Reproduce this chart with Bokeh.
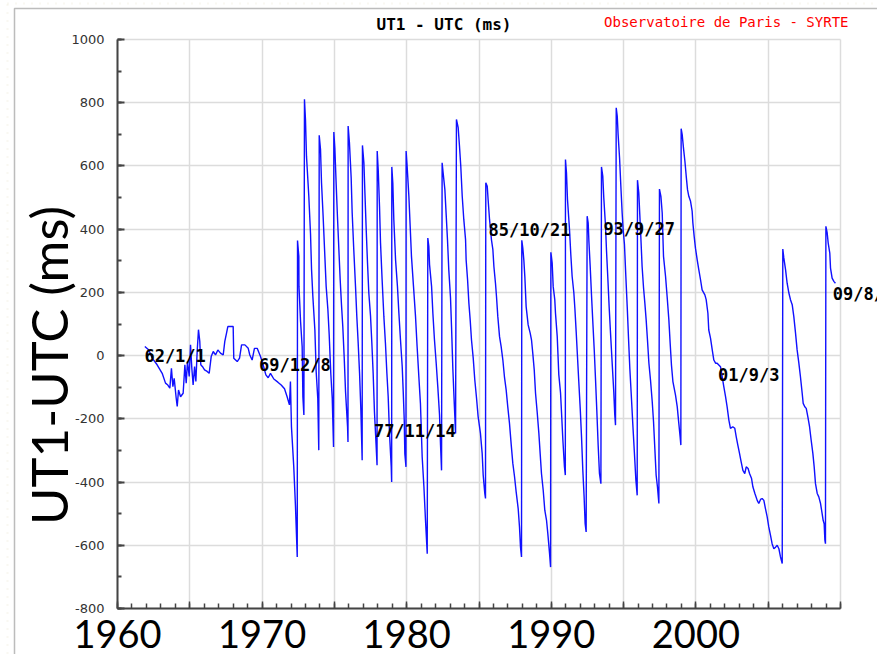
import math
from bokeh.plotting import figure
from bokeh.models import (Range1d, FixedTicker, Label, BoxAnnotation,
                          ColumnDataSource, CustomJSTickFormatter)
from bokeh.embed import file_html
from bokeh.resources import INLINE

# ---------------- data ----------------
early_year = [1961.89, 1962.17, 1962.40, 1962.74, 1963.09, 1963.32, 1963.48, 1963.62, 1963.73,
              1963.83, 1963.92, 1964.06, 1964.13, 1964.22, 1964.36, 1964.54, 1964.66, 1964.75,
              1964.84, 1964.96, 1965.05, 1965.14, 1965.23, 1965.33, 1965.42, 1965.51, 1965.60,
              1965.69, 1965.76, 1965.88, 1966.02, 1966.20, 1966.34, 1966.48, 1966.62, 1966.78,
              1966.94, 1967.12, 1967.31, 1967.42, 1967.54, 1967.63, 1968.00, 1968.04, 1968.28,
              1968.44, 1968.58, 1968.81, 1969.04, 1969.15, 1969.31, 1969.47, 1969.66, 1969.89,
              1970.07, 1970.26, 1970.42, 1970.58, 1970.81, 1971.09, 1971.32, 1971.55, 1971.73,
              1971.89, 1971.96, 1972.03, 1972.19, 1972.31, 1972.43]
early_ms = [29, 18, -8, -29, -56, -87, -93, -103, -40,
            -98, -72, -135, -161, -109, -130, -119, -29, -87,
            -19, -66, 34, -40, -93, -35, -82, 13, 82,
            45, -29, -35, -45, -50, -56, -3, 13, 2,
            18, 8, 2, 45, 71, 92, 92, -8, -19,
            -8, 34, 34, 23, 2, -14, 23, 23, -3,
            -29, -61, -70, -56, -74, -84, -93, -105, -130,
            -156, -82, -225, -352, -479, -637]

seventies_year = [1972.45, 1972.54, 1972.55, 1972.66, 1972.77, 1972.82, 1972.89,
                  1972.93, 1973.00, 1973.07, 1973.23, 1973.35, 1973.42, 1973.51, 1973.65, 1973.74, 1973.85, 1973.92,
                  1973.95, 1974.04, 1974.11, 1974.22, 1974.34, 1974.43, 1974.55, 1974.64, 1974.75, 1974.85, 1974.94,
                  1974.96, 1975.03, 1975.12, 1975.21, 1975.31, 1975.40, 1975.49, 1975.58, 1975.68, 1975.77, 1975.91, 1975.94,
                  1975.95, 1976.04, 1976.16, 1976.23, 1976.34, 1976.46, 1976.55, 1976.64, 1976.74, 1976.83, 1976.92,
                  1976.94, 1977.04, 1977.11, 1977.20, 1977.29, 1977.38, 1977.50, 1977.59, 1977.68, 1977.77, 1977.89, 1977.95,
                  1977.96, 1978.03, 1978.12, 1978.19, 1978.30, 1978.42, 1978.53, 1978.63, 1978.72, 1978.81, 1978.93, 1978.96,
                  1978.97, 1979.04, 1979.11, 1979.23, 1979.36, 1979.46, 1979.57, 1979.69, 1979.76, 1979.83, 1979.87, 1979.95]
seventies_ms = [364, 314, 219, 108, 29, -130, -188,
                811, 747, 631, 504, 383, 272, 187, 81, -51, -135, -299,
                697, 652, 546, 441, 314, 219, 145, 66, -56, -135, -289,
                707, 657, 546, 441, 335, 240, 161, 92, -8, -114, -225, -273,
                726, 673, 562, 451, 335, 219, 124, 44, -56, -172, -331,
                665, 610, 515, 398, 293, 198, 124, 39, -56, -178, -289, -347,
                647, 589, 472, 356, 240, 124, 39, -56, -130, -246, -352, -400,
                597, 546, 430, 303, 219, 134, 50, -35, -114, -204, -310, -352]

eighties_year = [1979.96, 1980.03, 1980.15, 1980.24, 1980.33, 1980.47, 1980.61, 1980.72, 1980.84, 1980.95,
                 1981.07, 1981.19, 1981.30, 1981.42,
                 1981.46, 1981.53, 1981.58, 1981.72, 1981.81, 1981.92, 1982.04, 1982.15, 1982.27, 1982.34, 1982.41,
                 1982.45, 1982.52, 1982.64, 1982.73, 1982.82, 1982.91, 1983.03, 1983.10, 1983.19, 1983.28, 1983.38,
                 1983.44, 1983.56, 1983.65, 1983.74, 1983.84, 1983.95, 1984.07, 1984.11, 1984.21, 1984.30, 1984.39,
                 1984.48, 1984.60, 1984.71, 1984.83, 1984.94, 1985.10, 1985.22, 1985.29, 1985.40, 1985.45,
                 1985.47, 1985.57, 1985.63, 1985.73, 1985.86, 1985.96, 1986.03, 1986.14, 1986.21, 1986.30, 1986.42,
                 1986.53, 1986.65, 1986.76, 1986.88, 1986.99, 1987.11, 1987.23, 1987.34, 1987.46, 1987.57, 1987.71,
                 1987.80, 1987.87, 1987.94,
                 1987.96, 1988.03, 1988.10, 1988.17, 1988.26, 1988.40, 1988.54, 1988.63, 1988.72, 1988.82, 1988.91,
                 1989.02, 1989.14, 1989.23, 1989.32, 1989.44, 1989.55, 1989.67, 1989.76, 1989.88, 1989.95]
eighties_ms = [647, 599, 504, 409, 314, 219, 124, 29, -67, -151,
               -320, -415, -521, -627,
               372, 346, 288, 219, 134, 50, -24, -98, -188, -283, -363,
               610, 578, 525, 446, 367, 272, 182, 92, -40, -141, -246,
               747, 721, 663, 599, 504, 430, 367, 303, 240, 166, 113,
               50, -8, -77, -135, -193, -246, -310, -378, -436, -452,
               547, 536, 494, 430, 367, 335, 282, 229, 187, 124, 60,
               29, -14, -67, -109, -162, -215, -283, -341, -384, -431, -484,
               -542, -606, -637,
               365, 340, 303, 250, 155, 97, 71, 50, 7, -45, -119,
               -177, -246, -310, -373, -426, -489, -521, -563, -627, -669]

nineties_year = [1989.97, 1990.06, 1990.13, 1990.24, 1990.29, 1990.41, 1990.52, 1990.64, 1990.71, 1990.80, 1990.91, 1990.97,
                 1990.98, 1991.05, 1991.12, 1991.26, 1991.35, 1991.44, 1991.56, 1991.63, 1991.72, 1991.81, 1991.90,
                 1992.00, 1992.09, 1992.18, 1992.27, 1992.34, 1992.41,
                 1992.48, 1992.55, 1992.60, 1992.69, 1992.78, 1992.87, 1992.97, 1993.06, 1993.15, 1993.24, 1993.33, 1993.43,
                 1993.47, 1993.56, 1993.63, 1993.75, 1993.82, 1993.91, 1994.00, 1994.09, 1994.21, 1994.32, 1994.39, 1994.44,
                 1994.49, 1994.56, 1994.62, 1994.72, 1994.81, 1994.90, 1994.97, 1995.06, 1995.15, 1995.25, 1995.34,
                 1995.43, 1995.55, 1995.64, 1995.75, 1995.85, 1995.94,
                 1995.96, 1996.05, 1996.12, 1996.19, 1996.28, 1996.38, 1996.47, 1996.56, 1996.65, 1996.75, 1996.86,
                 1996.98, 1997.07, 1997.16, 1997.25, 1997.34, 1997.44,
                 1997.48, 1997.58, 1997.67, 1997.76, 1997.90, 1998.01, 1998.13, 1998.22, 1998.31, 1998.41, 1998.50,
                 1998.59, 1998.71, 1998.82, 1998.91, 1998.96]
nineties_ms = [327, 293, 219, 177, 134, 60, -61, -119, -183, -267, -352, -378,
               620, 578, 494, 398, 319, 251, 198, 150, 76, -3, -82,
               -167, -257, -363, -447, -532, -558,
               441, 420, 362, 282, 192, 108, 18, -77, -177, -283, -373, -405,
               597, 568, 499, 409, 330, 245, 155, 76, -24, -114, -188, -220,
               784, 758, 700, 626, 536, 451, 398, 351, 256, 155, 55,
               -40, -141, -220, -310, -394, -442,
               555, 515, 446, 377, 282, 214, 166, 113, 50, -24, -77,
               -146, -209, -294, -378, -415, -468,
               527, 504, 451, 314, 251, 187, 113, 39, -30, -82, -104,
               -125, -162, -215, -257, -283]

noughties_year = [1998.98, 1999.05, 1999.14, 1999.24, 1999.33, 1999.42, 1999.51, 1999.63, 1999.74, 1999.79,
                  1999.88, 1999.97, 2000.09, 2000.20, 2000.32, 2000.43, 2000.62, 2000.71, 2000.83, 2000.89,
                  2001.01, 2001.13, 2001.24, 2001.36, 2001.47, 2001.70, 2001.82, 2001.93, 2002.05, 2002.16,
                  2002.28, 2002.39, 2002.55, 2002.69, 2002.79, 2002.90, 2003.02, 2003.13, 2003.25, 2003.38,
                  2003.48, 2003.61, 2003.71, 2003.85, 2003.94, 2004.08, 2004.24, 2004.35, 2004.47, 2004.58,
                  2004.70, 2004.81, 2004.93, 2005.04, 2005.16, 2005.27, 2005.39, 2005.51, 2005.62, 2005.74,
                  2005.85, 2005.97,
                  2006.01, 2006.08, 2006.20, 2006.31, 2006.43, 2006.54, 2006.66, 2006.77, 2006.89, 2007.00,
                  2007.12, 2007.23, 2007.35, 2007.42, 2007.53, 2007.63, 2007.74, 2007.86, 2007.97, 2008.09,
                  2008.18, 2008.27, 2008.39, 2008.50, 2008.62, 2008.73, 2008.80, 2008.87, 2008.92, 2008.96,
                  2008.99, 2009.08, 2009.15, 2009.26, 2009.31, 2009.42, 2009.54, 2009.65]
noughties_ms = [718, 700, 657, 615, 568, 525, 504, 488, 457, 420,
                377, 340, 303, 272, 240, 208, 192, 177, 134, 81,
                55, 18, -14, -24, -24, -35, -67, -98, -130, -162,
                -204, -230, -225, -230, -257, -283, -310, -336, -363, -373,
                -352, -357, -373, -389, -415, -436, -458, -468, -455, -452,
                -458, -484, -510, -542, -569, -595, -611, -606, -600, -611,
                -637, -658,
                337, 309, 272, 229, 198, 177, 161, 124, 71, 18,
                -24, -67, -119, -151, -162, -167, -193, -225, -267, -310,
                -352, -405, -436, -447, -468, -500, -521, -532, -584, -595,
                409, 388, 356, 324, 277, 245, 235, 229]

note_text = ["62/1/1", "69/12/8", "77/11/14", "85/10/21", "93/9/27", "01/9/3", "09/8/10"]
note_year = [1962.00, 1969.93, 1977.87, 1985.80, 1993.74, 2001.67, 2009.61]
note_ms = [0, -31, -240, 397, 400, -61, 195]

x_label_years = [1960, 1970, 1980, 1990, 2000]
x_label_text = ["1960", "1970", "1980", "1990", "2000"]
x_major_ticks = [1960, 1965, 1970, 1975, 1980, 1985, 1990, 1995, 2000, 2005, 2010]
x_minor_ticks = list(range(1960, 2011))
y_major_ticks = [-800, -600, -400, -200, 0, 200, 400, 600, 800, 1000]
y_minor_ticks = list(range(-800, 1001, 100))

title_text = "UT1 - UTC (ms)"
credit_text = "Observatoire de Paris - SYRTE"
y_title_text = "UT1-UTC (ms)"

# ---------------- layout: the chart box inside the slide ----------------
W, H = 877, 654
BOX_L, BOX_R, BOX_T, BOX_B = 117, 840, 39, 608     # pixel edges of the chart box
X0, X1, Y0, Y1 = 1960, 2010, -800, 1000
sx = (X1 - X0) / (BOX_R - BOX_L)
sy = (Y1 - Y0) / (BOX_B - BOX_T)


def px_x(px):
    return X0 + (px - BOX_L) * sx


def px_y(py):
    return Y1 - (py - BOX_T) * sy


all_year, all_ms = [], []
for ys, vs in [(early_year, early_ms), (seventies_year, seventies_ms),
               (eighties_year, eighties_ms), (nineties_year, nineties_ms),
               (noughties_year, noughties_ms)]:
    for a, b in zip(ys, vs):
        all_year.append(a)
        all_ms.append(b)

src = ColumnDataSource(dict(year=all_year, ms=all_ms))

p = figure(width=W, height=H, output_backend="svg", toolbar_location=None,
           x_range=Range1d(px_x(0), px_x(W)), y_range=Range1d(px_y(H), px_y(0)),
           min_border=0)
p.outline_line_color = None
p.background_fill_color = "white"
p.border_fill_color = "white"

# grid
p.xgrid.ticker = FixedTicker(ticks=x_major_ticks)
p.ygrid.ticker = FixedTicker(ticks=y_major_ticks)
for g in (p.xgrid, p.ygrid):
    g.grid_line_color = "#dcdcdc"
    g.grid_line_width = 1.5
if "cross_bounds" in p.xgrid.properties():
    p.xgrid.cross_bounds = (Y0, Y1)
    p.ygrid.cross_bounds = (X0, X1)
p.xgrid.bounds = (X0, X1)
p.ygrid.bounds = (Y0, Y1)

# y axis, pinned at 1960
ya = p.yaxis[0]
ya.fixed_location = X0
ya.bounds = (Y0, Y1)
ya.ticker = FixedTicker(ticks=y_major_ticks, minor_ticks=y_minor_ticks)
ya.formatter = CustomJSTickFormatter(code="return tick.toFixed(0);")
ya.axis_line_color = "#444444"
ya.axis_line_width = 2
ya.major_tick_in = 7
ya.major_tick_out = 0
ya.minor_tick_in = 4
ya.minor_tick_out = 0
ya.major_tick_line_color = "#444444"
ya.major_tick_line_width = 2
ya.minor_tick_line_color = "#444444"
ya.minor_tick_line_width = 2
ya.major_label_text_font = "DejaVu Sans"
ya.major_label_text_font_size = "13px"
ya.major_label_text_color = "#333333"
ya.major_label_standoff = 13

# x axis, pinned at -800, big slide year labels as tick labels
xa = p.xaxis[0]
xa.fixed_location = Y0
xa.bounds = (X0, X1)
xa.ticker = FixedTicker(ticks=x_major_ticks, minor_ticks=x_minor_ticks)
xa.formatter = CustomJSTickFormatter(
    args=dict(vals=x_label_years, labels=x_label_text),
    code="const i = vals.indexOf(tick); return i >= 0 ? labels[i] : '';")
xa.axis_line_color = "#444444"
xa.axis_line_width = 2
xa.major_tick_in = 7
xa.major_tick_out = 0
xa.minor_tick_in = 5
xa.minor_tick_out = 0
xa.major_tick_line_color = "#444444"
xa.major_tick_line_width = 1.5
xa.minor_tick_line_color = "#444444"
xa.minor_tick_line_width = 1.5
xa.major_label_text_font = "Lato"
xa.major_label_text_font_size = "38px"
xa.major_label_text_color = "black"
xa.major_label_standoff = 11

# data line
p.line(x="year", y="ms", source=src, line_color="#1010ff", line_width=1.4)

# date annotations
for t, xv, yv in zip(note_text, note_year, note_ms):
    p.add_layout(Label(x=xv, y=yv, text=t, x_offset=-2, text_align="left",
                       text_baseline="middle", text_font="DejaVu Sans Mono",
                       text_font_style="bold", text_font_size="17px", text_color="black"))

# chart title and credit
p.add_layout(Label(x=px_x(443.5), y=px_y(24), text=title_text, text_align="center",
                   text_baseline="middle", text_font="DejaVu Sans Mono",
                   text_font_style="bold", text_font_size="16px", text_color="black"))
p.add_layout(Label(x=px_x(848), y=px_y(21.5), text=credit_text, text_align="right",
                   text_baseline="middle", text_font="DejaVu Sans Mono",
                   text_font_size="14px", text_color="#ff0000"))

# big slide y label
p.add_layout(Label(x=px_x(48), y=px_y(365), text=y_title_text, angle=math.pi / 2,
                   text_align="center", text_baseline="middle", text_font="Lato",
                   text_font_size="51px", text_color="black"))

# slide frame and dotted slide background edge
p.add_layout(BoxAnnotation(left=px_x(14), right=px_x(W + 20), top=px_y(8), bottom=px_y(H + 20),
                           fill_alpha=0, line_color="#222222", line_width=1.5))
p.add_layout(BoxAnnotation(left=px_x(7), right=px_x(W + 20), top=px_y(3), bottom=px_y(H + 20),
                           fill_alpha=0, line_color="#d8d2a8", line_width=2,
                           line_dash="1 7"))

open("out.html", "w").write(file_html(p, INLINE))
